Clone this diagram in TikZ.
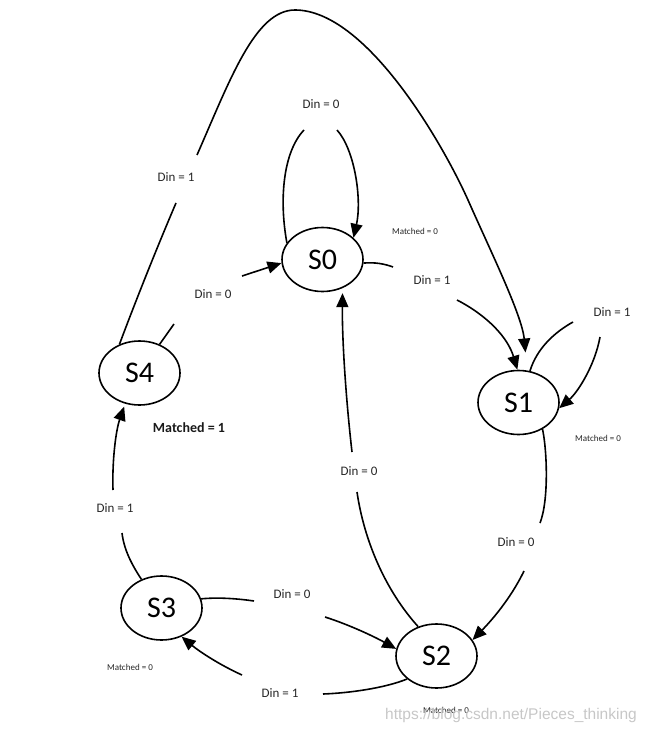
\documentclass[tikz,border=0pt]{standalone}
\usepackage{fontspec}
\setmainfont{Carlito}
\newfontfamily\wmfont{Liberation Sans}
\usetikzlibrary{shapes.geometric,arrows.meta}
\begin{document}
\begin{tikzpicture}[x=1pt,y=-1pt,
  state/.style={draw,ellipse,line width=1.6pt,minimum width=81pt,minimum height=64pt,inner sep=0pt,font=\fontsize{30}{30}\selectfont},
  edge/.style={line width=1.6pt},
  arr/.style={line width=1.6pt,-{Triangle[length=14pt,width=12pt]}},
  din/.style={font=\fontsize{13}{13}\selectfont,text=black!85},
  mt/.style={font=\fontsize{9}{9}\selectfont,text=black!85},
  mtb/.style={font=\fontsize{14}{14}\selectfont\bfseries,text=black!90}]
\useasboundingbox (0,0) rectangle (649,733);
% states
\node[state] (S0) at (322.5,259.5) {S0};
\node[state] (S1) at (518.5,402.5) {S1};
\node[state] (S2) at (436.5,656) {S2};
\node[state] (S3) at (161.5,608) {S3};
\node[state] (S4) at (139.5,373) {S4};
% gap coordinates
\coordinate (a1) at (304,130); \coordinate (b1) at (337,130);
\coordinate (a2) at (174,324); \coordinate (b2) at (242,276);
\coordinate (a3) at (176,203); \coordinate (b3) at (197,155);
\coordinate (a4) at (393,267); \coordinate (b4) at (457,300);
\coordinate (a5) at (573,322); \coordinate (b5) at (600,337);
\coordinate (a6) at (540,523); \coordinate (b6) at (524,571);
\coordinate (a7) at (357,492); \coordinate (b7) at (352,452);
\coordinate (a8) at (254,601); \coordinate (b8) at (325,617);
\coordinate (a9) at (323,694); \coordinate (b9) at (242,675);
\coordinate (a10) at (122,533); \coordinate (b10) at (113,490);
% S0 self loop
\draw[edge] (S0.155) .. controls (279,200) and (283,152) .. (a1);
\draw[arr] (b1) .. controls (355,150) and (362,200) .. (S0.35);
% S4 -> S0
\draw[edge] (S4.55) -- (a2);
\draw[arr] (b2) -- (S0.185);
% S4 -> S1 (big arc)
\draw[edge] (S4.125) .. controls (136,300) and (158,245) .. (a3);
\draw[arr,shorten >=18pt] (b3) .. controls (230,80) and (255,10) .. (295,10)
   .. controls (365,10) and (441,140) .. (468,200)
   .. controls (490,250) and (522,315) .. (S1.75);
% S0 -> S1
\draw[edge] (S0.-5) .. controls (375,262) and (385,264) .. (a4);
\draw[arr] (b4) .. controls (488,316) and (508,338) .. (S1.92);
% S1 self loop
\draw[edge] (S1.70) .. controls (537,348) and (555,332) .. (a5);
\draw[arr] (b5) .. controls (595,365) and (578,392) .. (S1.-8);
% S1 -> S2
\draw[edge] (S1.-48) .. controls (547,450) and (549,500) .. (a6);
\draw[arr] (b6) .. controls (510,600) and (490,622) .. (S2.24);
% S2 -> S0
\draw[edge] (S2.122) .. controls (385,590) and (364,540) .. (a7);
\draw[arr,shorten >=5pt] (b7) .. controls (346,400) and (342,340) .. (S0.-55);
% S3 -> S2
\draw[edge] (S3.13) .. controls (220,597) and (240,599) .. (a8);
\draw[arr] (b8) .. controls (350,625) and (375,637) .. (S2.170);
% S2 -> S3
\draw[edge] (S2.218) .. controls (385,688) and (350,693) .. (a9);
\draw[arr] (b9) .. controls (220,665) and (200,652) .. (S3.-55);
% S3 -> S4
\draw[edge] (S3.125) .. controls (132,565) and (124,550) .. (a10);
\draw[arr,shorten >=3pt] (b10) .. controls (112,460) and (116,430) .. (S4.-115);
% labels
\node[din] (l1) at (321,104) {Din = 0};
\node[din] (l2) at (213,294) {Din = 0};
\node[din] (l3) at (176,177) {Din = 1};
\node[din] (l4) at (432,280) {Din = 1};
\node[din] (l5) at (612,312) {Din = 1};
\node[din] (l6) at (516,542) {Din = 0};
\node[din] (l7) at (359,471) {Din = 0};
\node[din] (l8) at (292,594) {Din = 0};
\node[din] (l9) at (280,693) {Din = 1};
\node[din] (l10) at (115,508) {Din = 1};
\node[mt] (m0) at (415,231) {Matched = 0};
\node[mt] (m1) at (598,438) {Matched = 0};
\node[mt] (m3) at (130,667) {Matched = 0};
\node[mt] (m2) at (446,710) {Matched = 0};
\node[mtb] (m4) at (189,428) {Matched = 1};
\node[font=\wmfont\fontsize{15.5}{15.5}\selectfont,text=black!22] (wm) at (511,715) {https://blog.csdn.net/Pieces\_thinking};
\end{tikzpicture}
\end{document}
